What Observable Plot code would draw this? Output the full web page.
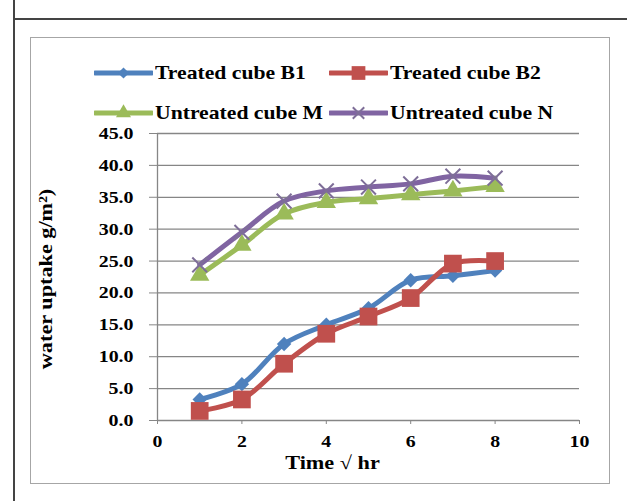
<!DOCTYPE html>
<html>
<head>
<meta charset="utf-8">
<script src="https://cdn.jsdelivr.net/npm/d3@7"></script>
<script src="https://cdn.jsdelivr.net/npm/@observablehq/plot@0.6"></script>
<style>
  html, body { margin: 0; padding: 0; background: #fff; }
  #page { position: relative; width: 627px; height: 501px; overflow: hidden; background: #fff; }
  .outer-left { position: absolute; left: 13px; top: 0; width: 2px; height: 501px; background: #444; }
  .outer-top { position: absolute; left: 13px; top: 18px; width: 614px; height: 2px; background: #444; }
  .box { position: absolute; left: 30px; top: 37px; width: 580px; height: 447px; border: 1.5px solid #a6a6a6; box-sizing: border-box; }
  #chart { position: absolute; left: 0; top: 0; }
  .legend-item { position: absolute; display: flex; align-items: center; font-family: "Liberation Serif", serif; font-weight: bold; font-size: 19px; color: #000; white-space: nowrap; }
  .legend-item svg { display: block; margin-right: 2px; }
  .legend-item span { display: inline-block; transform: scaleX(1.14); transform-origin: left center; }
</style>
</head>
<body>
<div id="page">
  <div class="outer-left"></div>
  <div class="outer-top"></div>
  <div class="box"></div>
  <div id="chart"></div>
  <div id="legend"></div>
</div>
<script>
// ---- data ----
const times = [1, 2, 3, 4, 5, 6, 7, 8];
const treatedB1 = [3.3, 5.7, 12.0, 15.0, 17.6, 22.0, 22.7, 23.5];
const treatedB2 = [1.5, 3.3, 8.9, 13.6, 16.3, 19.2, 24.6, 25.0];
const untreatedM = [22.8, 27.5, 32.4, 34.2, 34.8, 35.4, 36.0, 36.7];
const untreatedN = [24.4, 29.5, 34.4, 36.0, 36.6, 37.1, 38.3, 38.0];
const seriesNames = ["Treated cube B1", "Treated cube B2", "Untreated cube M", "Untreated cube N"];
const seriesValues = [treatedB1, treatedB2, untreatedM, untreatedN];
const xTicks = [0, 2, 4, 6, 8, 10];
const yTicks = [0, 5, 10, 15, 20, 25, 30, 35, 40, 45];
const xLabel = "Time \u221A hr";
const yLabel = "water uptake g/m\u00B2)";

// ---- styles ----
const colors = ["#4F81BD", "#C0504D", "#9BBB59", "#8064A2"];
const symbols = ["diamond2", "square", "triangle", "times"];
const radii = [6.5, 10, 7.2, 6.8];
const gridColor = "#868686";
const font = "Liberation Serif";

const rows = [];
seriesNames.forEach((name, i) => {
  times.forEach((t, j) => rows.push({series: name, idx: i, t, v: seriesValues[i][j]}));
});

const marks = [
  Plot.ruleY(yTicks, {y: d => d, x1: 0, x2: 10, stroke: gridColor, strokeWidth: 1.3}),
  Plot.ruleX([0], {y1: 0, y2: 45, stroke: gridColor, strokeWidth: 1.3}),
  Plot.axisY({ticks: yTicks, tickSize: 8, tickPadding: 16, stroke: gridColor, tickFormat: d3.format(".1f"),
    fontSize: 17, fontWeight: "bold", label: null}),
  Plot.axisX({ticks: xTicks, tickSize: 4, tickPadding: 10, stroke: gridColor, tickFormat: d => String(d),
    fontSize: 17, fontWeight: "bold", label: null}),
];
seriesNames.forEach((name, i) => {
  marks.push(Plot.line(rows.filter(r => r.idx === i), {x: "t", y: "v", stroke: colors[i], strokeWidth: 5, curve: "catmull-rom"}));
});
seriesNames.forEach((name, i) => {
  const data = rows.filter(r => r.idx === i);
  if (symbols[i] === "times") {
    marks.push(Plot.dot(data, {x: "t", y: "v", symbol: "times", r: radii[i], stroke: "#7e6e98", strokeWidth: 2}));
  } else {
    marks.push(Plot.dot(data, {x: "t", y: "v", symbol: symbols[i], r: radii[i], fill: colors[i], stroke: "none"}));
  }
});
marks.push(Plot.text([yLabel], {text: d => d, frameAnchor: "left", textAnchor: "middle", rotate: -90, dx: -112, dy: 2,
  fontSize: 19, fontWeight: "bold"}));
marks.push(Plot.text([xLabel], {text: d => d, frameAnchor: "bottom", textAnchor: "middle", dx: -36, dy: 48,
  fontSize: 19, fontWeight: "bold"}));

const chart = Plot.plot({
  width: 627,
  height: 501,
  marginLeft: 157,
  marginRight: 48,
  marginTop: 133,
  marginBottom: 81,
  x: {domain: [0, 10], axis: null},
  y: {domain: [0, 45], axis: null},
  style: {fontFamily: font, color: "#000", background: "transparent", overflow: "visible"},
  marks
});
document.getElementById("chart").appendChild(chart);

// widen glyphs to match the reference's broad lettering
d3.select(chart).selectAll("text").each(function() {
  const len = this.getComputedTextLength();
  if (len > 0) {
    this.setAttribute("textLength", (len * 1.17).toFixed(1));
    this.setAttribute("lengthAdjust", "spacingAndGlyphs");
  }
});

// ---- legend ----
const legendPos = [
  {left: 94, top: 73}, {left: 329, top: 73},
  {left: 94, top: 113}, {left: 329, top: 113}
];
const legend = document.getElementById("legend");
seriesNames.forEach((name, i) => {
  const item = document.createElement("div");
  item.className = "legend-item";
  item.style.left = legendPos[i].left + "px";
  item.style.top = (legendPos[i].top - 12) + "px";
  item.style.height = "24px";
  const svg = d3.create("svg").attr("width", 59).attr("height", 24);
  svg.append("line").attr("x1", 1).attr("x2", 58).attr("y1", 12).attr("y2", 12)
    .attr("stroke", colors[i]).attr("stroke-width", 5).attr("stroke-linecap", "round");
  const symMap = {diamond2: d3.symbolDiamond2, square: d3.symbolSquare, triangle: d3.symbolTriangle, times: d3.symbolTimes};
  const path = d3.symbol(symMap[symbols[i]], Math.PI * radii[i] * radii[i] * 0.6)();
  const p = svg.append("path").attr("d", path).attr("transform", "translate(29.5,12)");
  if (symbols[i] === "times") p.attr("fill", "none").attr("stroke", "#7e6e98").attr("stroke-width", 2);
  else p.attr("fill", colors[i]);
  item.appendChild(svg.node());
  const span = document.createElement("span");
  span.textContent = name;
  item.appendChild(span);
  legend.appendChild(item);
});
</script>
</body>
</html>
